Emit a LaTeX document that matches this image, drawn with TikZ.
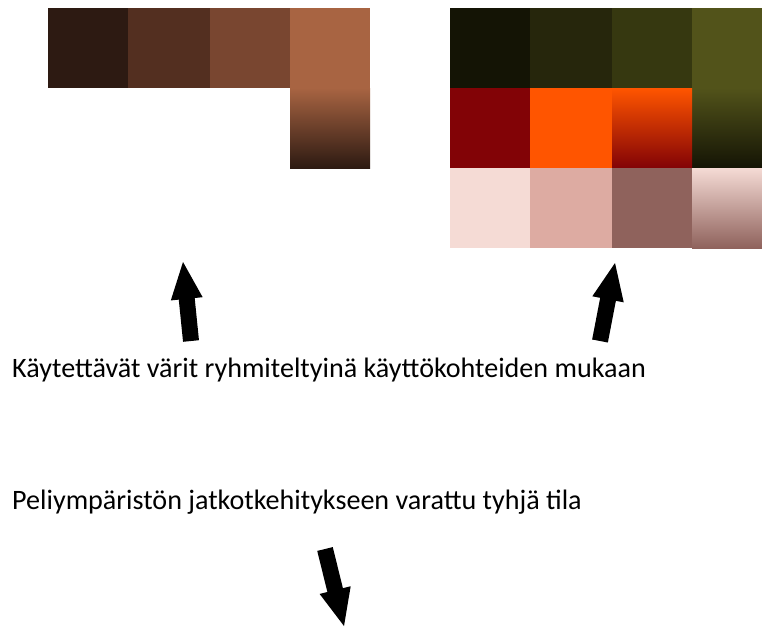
\documentclass[tikz,border=0pt]{standalone}
\usepackage{fontspec}
\setmainfont{Carlito}
\usetikzlibrary{calc}

% palette colours
\definecolor{brA}{HTML}{2D1A12}
\definecolor{brB}{HTML}{532F20}
\definecolor{brC}{HTML}{794630}
\definecolor{brD}{HTML}{A86442}
\definecolor{olA}{HTML}{141405}
\definecolor{olB}{HTML}{26260C}
\definecolor{olC}{HTML}{363810}
\definecolor{olD}{HTML}{52531A}
\definecolor{rdA}{HTML}{820306}
\definecolor{rdB}{HTML}{FF5500}
\definecolor{pkA}{HTML}{F5DBD5}
\definecolor{pkB}{HTML}{DDABA2}
\definecolor{pkC}{HTML}{8F625C}

% block arrow from tail #1 to tip #2
\newcommand\blockarrow[2]{%
  \coordinate (bah) at ($(#2)!37pt!(#1)$);
  \fill[black]
    ($(#1)!8pt!90:(#2)$) -- ($(bah)!8pt!90:(#2)$) -- ($(bah)!16pt!90:(#2)$)
    -- (#2)
    -- ($(bah)!16pt!-90:(#2)$) -- ($(bah)!8pt!-90:(#2)$) -- ($(#1)!8pt!-90:(#2)$)
    -- cycle;
}

\tikzset{
  label text/.style={anchor=base west, inner sep=0pt, font=\fontsize{28.1}{32}\selectfont, text=black}
}

\begin{document}
\begin{tikzpicture}[x=1pt,y=-1pt]
\useasboundingbox[fill=white] (0,0) rectangle (762,627);

% brown palette
\fill[brA] (48,8) rectangle (128,88);
\fill[brB] (128,8) rectangle (210,88);
\fill[brC] (210,8) rectangle (290,88);
\fill[brD] (290,8) rectangle (370,88);
\shade[top color=brD, bottom color=brA] (290,88) rectangle (370,168);

% olive / red / pink palette
\fill[olA] (450,8) rectangle (530,88);
\fill[olB] (530,8) rectangle (612,88);
\fill[olC] (612,8) rectangle (692,88);
\fill[olD] (692,8) rectangle (762,88);
\shade[top color=olD, bottom color=olA] (692,88) rectangle (762,168);
\fill[rdA] (450,88) rectangle (530,168);
\fill[rdB] (530,88) rectangle (612,168);
\shade[top color=rdB, bottom color=rdA] (612,88) rectangle (692,168);
\fill[pkA] (450,168) rectangle (530,248);
\fill[pkB] (530,168) rectangle (612,248);
\fill[pkC] (612,168) rectangle (692,248);
\shade[top color=pkA, bottom color=pkC] (692,168) rectangle (762,248);

% labels
\node[label text] (used) at (12,377) {Käytettävät värit ryhmiteltyinä käyttökohteiden mukaan};
\node[label text] (free) at (12,509) {Peliympäristön jatkotkehitykseen varattu tyhjä tila};

% arrows
\coordinate (a1t) at (191,341);
\coordinate (a1p) at (183,262);
\coordinate (a2t) at (600,341);
\coordinate (a2p) at (615,263);
\coordinate (a3t) at (325,549);
\coordinate (a3p) at (344,626);
\blockarrow{a1t}{a1p}
\blockarrow{a2t}{a2p}
\blockarrow{a3t}{a3p}
\end{tikzpicture}
\end{document}
